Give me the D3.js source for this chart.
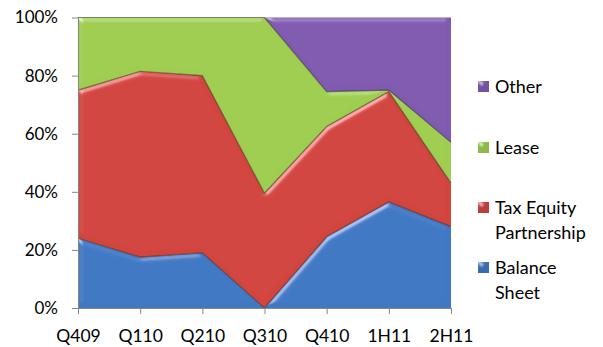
<!DOCTYPE html>
<html>
<head>
<meta charset="utf-8">
<script src="https://cdn.jsdelivr.net/npm/d3@7"></script>
<style>
  html, body { margin: 0; padding: 0; background: #fff; }
  svg text { font-family: Lato, "Open Sans", sans-serif; fill: #000; }
</style>
</head>
<body>
<svg id="chart" width="603" height="347"></svg>
<script>
// Financing mix by period, share of total (%)
const categories = ["Q409", "Q110", "Q210", "Q310", "Q410", "1H11", "2H11"];
const balanceSheet = [24, 17.5, 19, 0, 24.5, 36.5, 28];
const taxEquity    = [51, 64, 61, 39.5, 38, 38, 15];
const lease        = [25, 18.5, 20, 60.5, 12, 0.5, 14];
const other        = [0, 0, 0, 0, 25.5, 25, 43];
const yTicks = [0, 20, 40, 60, 80, 100];

const seriesNames = ["Balance Sheet", "Tax Equity Partnership", "Lease", "Other"];
const seriesValues = [balanceSheet, taxEquity, lease, other];
const colors = ["#3f78c4", "#d2443e", "#9ecd50", "#805ab0"];
const legendLines = [["Balance", "Sheet"], ["Tax Equity", "Partnership"], ["Lease"], ["Other"]];

const rows = categories.map((c, i) => {
  const r = { cat: c };
  seriesNames.forEach((s, k) => r[s] = seriesValues[k][i]);
  return r;
});
const stacked = d3.stack().keys(seriesNames).offset(d3.stackOffsetExpand)(rows);

const svg = d3.select("#chart");
const x = d3.scalePoint().domain(categories).range([78, 451]);
const y = d3.scaleLinear().domain([0, 1]).range([308, 17.5]);

// soft bevel used on the area fills: lit edges only, flat interior untouched
const defs = svg.append("defs");
const f = defs.append("filter").attr("id", "bevel")
  .attr("x", "-5%").attr("y", "-5%").attr("width", "110%").attr("height", "110%");
f.append("feGaussianBlur").attr("in", "SourceAlpha").attr("stdDeviation", 2.5).attr("result", "blur");
const spec = f.append("feSpecularLighting").attr("in", "blur")
  .attr("surfaceScale", 3).attr("specularConstant", 0.8).attr("specularExponent", 22)
  .attr("lighting-color", "#ffffff").attr("result", "spec");
spec.append("feDistantLight").attr("azimuth", 235).attr("elevation", 22);
f.append("feComposite").attr("in", "spec").attr("in2", "SourceAlpha").attr("operator", "in").attr("result", "specIn");
f.append("feComposite").attr("in", "SourceGraphic").attr("in2", "specIn")
  .attr("operator", "arithmetic").attr("k1", 0).attr("k2", 1).attr("k3", 0.45).attr("k4", 0);

const area = d3.area()
  .x(d => x(d.data.cat))
  .y0(d => y(d[0]))
  .y1(d => y(d[1]));

const topLine = d3.line()
  .x(d => x(d.data.cat))
  .y(d => y(d[1]));

const plot = svg.append("g");
stacked.forEach((layer, k) => {
  plot.append("path")
    .datum(layer)
    .attr("d", area)
    .attr("fill", colors[k])
    .attr("filter", "url(#bevel)");
});
// dark seam along the upper edge of each band
stacked.slice(0, 3).forEach(layer => {
  plot.append("path")
    .datum(layer)
    .attr("d", topLine)
    .attr("fill", "none")
    .attr("stroke", "rgba(40,30,30,0.5)")
    .attr("stroke-width", 1.2);
});

// axes
const yAxis = d3.axisLeft(y).tickValues(yTicks.map(v => v / 100))
  .tickFormat(v => Math.round(v * 100) + "%").tickSize(6).tickSizeOuter(0);
const gy = svg.append("g").attr("transform", "translate(78,0)").call(yAxis);
gy.select(".domain").attr("stroke", "#868686");
gy.selectAll(".tick line").attr("stroke", "#868686");
gy.selectAll(".tick text").attr("x", -20).style("font-size", "17px").attr("font-family", null);

const xAxis = d3.axisBottom(x).tickSize(6).tickSizeOuter(0);
const gx = svg.append("g").attr("transform", "translate(0,308)").call(xAxis);
gx.select(".domain").attr("stroke", "#868686");
gx.selectAll(".tick line").attr("stroke", "#868686");
gx.selectAll(".tick text").attr("y", 21.5).style("font-size", "17.5px").attr("font-family", null);
svg.selectAll(".tick text").attr("fill", "#000");

// legend
const legendY = [268, 208, 148, 87];
const legend = svg.append("g");
seriesNames.forEach((s, k) => {
  const g = legend.append("g").attr("transform", `translate(478,${legendY[k]})`);
  g.append("rect").attr("x", 0).attr("y", -6).attr("width", 11).attr("height", 11)
    .attr("fill", d3.color(colors[k]).darker(0.3)).attr("filter", "url(#bevel)");
  legendLines[k].forEach((t, j) => {
    g.append("text").attr("x", 17).attr("y", j * 25).attr("dy", "0.35em")
      .style("font-size", "18px").text(t);
  });
});
</script>
</body>
</html>
